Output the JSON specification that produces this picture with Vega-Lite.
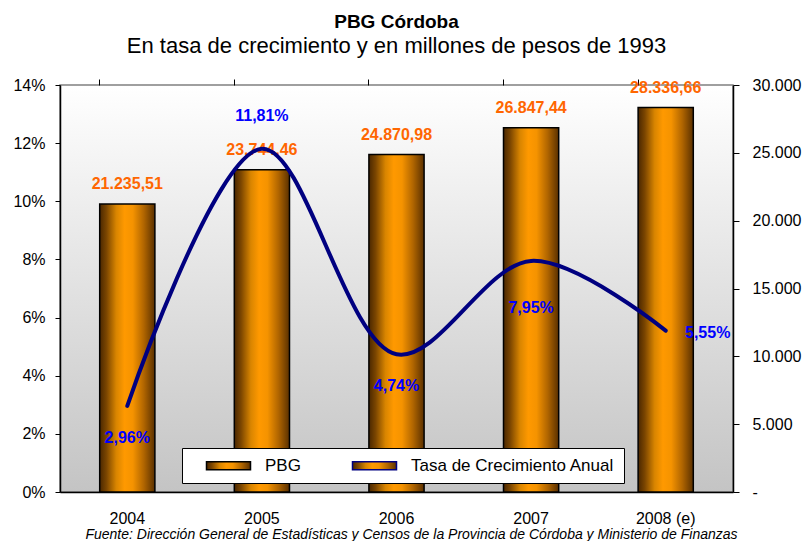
{
  "$schema": "https://vega.github.io/schema/vega-lite/v6.json",
  "width": 673,
  "height": 407,
  "autosize": {"type": "none"},
  "padding": {"left": 60, "top": 85, "right": 79, "bottom": 49},
  "background": "white",
  "title": {
    "text": "PBG Córdoba",
    "subtitle": "En tasa de crecimiento y en millones de pesos de 1993",
    "anchor": "middle",
    "frame": "group",
    "font": "Liberation Sans",
    "fontSize": 19,
    "fontWeight": "bold",
    "color": "black",
    "subtitleFont": "Liberation Sans",
    "subtitleFontSize": 22,
    "subtitleColor": "black",
    "subtitlePadding": 4,
    "offset": 20
  },
  "data": {
    "values": [
      {"year": "2004", "pbg": 21235.51, "tasa": 0.0296},
      {"year": "2005", "pbg": 23744.46, "tasa": 0.1181},
      {"year": "2006", "pbg": 24870.98, "tasa": 0.0474},
      {"year": "2007", "pbg": 26847.44, "tasa": 0.0795},
      {"year": "2008 (e)", "pbg": 28336.66, "tasa": 0.0555}
    ]
  },
  "layer": [
    {
      "mark": {
        "type": "bar",
        "strokeWidth": 1.5,
        "fill": {
          "gradient": "linear", "x1": 0, "y1": 0, "x2": 1, "y2": 0,
          "stops": [
            {"offset": 0, "color": "#4a2700"},
            {"offset": 0.12, "color": "#7a4500"},
            {"offset": 0.3, "color": "#d98500"},
            {"offset": 0.45, "color": "#ff9900"},
            {"offset": 0.6, "color": "#f59300"},
            {"offset": 0.8, "color": "#b06500"},
            {"offset": 1, "color": "#5a3000"}
          ]
        }
      },
      "encoding": {
        "x": {
          "field": "year", "type": "nominal", "sort": null,
          "scale": {"paddingInner": 0.59, "paddingOuter": 0.295},
          "axis": {
            "title": "Fuente: Dirección General de Estadísticas y Censos de la Provincia de Córdoba y Ministerio de Finanzas",
            "labelAngle": 0,
            "ticks": false,
            "tickSize": 0,
            "labelPadding": 18,
            "domainColor": "black",
            "domainWidth": 1.5,
            "titleFont": "Liberation Sans",
            "titleFontStyle": "italic",
            "titleFontWeight": "normal",
            "titleFontSize": 14,
            "titleColor": "black",
            "titleX": 351,
            "titleY": 46,
            "titleAlign": "center",
            "titleAnchor": null,
            "titleBaseline": "alphabetic"
          }
        },
        "y": {
          "field": "pbg", "type": "quantitative",
          "scale": {"domain": [0, 30000], "nice": false},
          "axis": {
            "orient": "right",
            "title": null,
            "values": [0, 5000, 10000, 15000, 20000, 25000, 30000],
            "format": ",.0f",
            "labelExpr": "datum.value == 0 ? '-' : datum.label",
            "tickSize": 6,
            "labelPadding": 13,
            "domainColor": "black",
            "domainWidth": 1.5,
            "tickColor": "black",
            "grid": false
          }
        },
        "stroke": {
          "datum": "PBG", "type": "nominal",
          "scale": {"domain": ["PBG", "Tasa de Crecimiento Anual"], "range": ["#000000", "#000080"]},
          "legend": {
            "title": null,
            "orient": "none",
            "legendX": 122,
            "legendY": 363,
            "direction": "horizontal",
            "columns": 2,
            "fillColor": "white",
            "strokeColor": "black",
            "padding": 9,
            "columnPadding": 36,
            "labelFont": "Liberation Sans",
            "labelFontSize": 17,
            "labelColor": "black",
            "labelLimit": 400,
            "symbolSize": 100,
            "symbolType": "M-4.4,-0.8H4.4V0.8H-4.4Z",
            "symbolStrokeWidth": 1.5,
            "labelOffset": 28,
            "symbolOffset": 29
          }
        }
      }
    },
    {
      "mark": {"type": "text", "font": "Liberation Sans", "fontSize": 16, "fontWeight": "bold", "color": "#ff6600", "baseline": "alphabetic", "dy": -15},
      "encoding": {
        "x": {"field": "year", "type": "nominal", "sort": null, "axis": null},
        "y": {"field": "pbg", "type": "quantitative", "scale": {"domain": [0, 30000], "nice": false}, "axis": null},
        "text": {"field": "pbg", "type": "quantitative", "format": ",.2f"}
      }
    },
    {
      "mark": {"type": "line", "interpolate": "catmull-rom", "strokeWidth": 4, "strokeCap": "round"},
      "encoding": {
        "x": {
          "field": "year", "type": "nominal", "sort": null,
          "axis": {"bandPosition": 0, "labels": false, "ticks": true, "tickSize": 6, "tickColor": "black", "domain": false, "title": null, "grid": false}
        },
        "y": {
          "field": "tasa", "type": "quantitative",
          "scale": {"domain": [0, 0.14], "nice": false},
          "axis": {
            "orient": "left",
            "title": null,
            "values": [0, 0.02, 0.04, 0.06, 0.08, 0.1, 0.12, 0.14],
            "format": ".0%",
            "tickSize": 5,
            "labelPadding": 10,
            "domainColor": "black",
            "domainWidth": 1.5,
            "tickColor": "black",
            "grid": false
          }
        },
        "stroke": {"datum": "Tasa de Crecimiento Anual", "type": "nominal", "legend": null}
      }
    },
    {
      "transform": [{"filter": "datum.year == '2004' || datum.year == '2006'"}],
      "mark": {"type": "text", "font": "Liberation Sans", "fontSize": 16, "fontWeight": "bold", "color": "#0000ff", "baseline": "middle", "dy": 32},
      "encoding": {
        "x": {"field": "year", "type": "nominal", "sort": null, "axis": null},
        "y": {"field": "tasa", "type": "quantitative", "scale": {"domain": [0, 0.14], "nice": false}, "axis": null},
        "text": {"field": "tasa", "type": "quantitative", "format": ".2%"}
      }
    },
    {
      "transform": [{"filter": "datum.year == '2007'"}],
      "mark": {"type": "text", "font": "Liberation Sans", "fontSize": 16, "fontWeight": "bold", "color": "#0000ff", "baseline": "middle", "dy": 47},
      "encoding": {
        "x": {"field": "year", "type": "nominal", "sort": null, "axis": null},
        "y": {"field": "tasa", "type": "quantitative", "scale": {"domain": [0, 0.14], "nice": false}, "axis": null},
        "text": {"field": "tasa", "type": "quantitative", "format": ".2%"}
      }
    },
    {
      "transform": [{"filter": "datum.year == '2005'"}],
      "mark": {"type": "text", "font": "Liberation Sans", "fontSize": 16, "fontWeight": "bold", "color": "#0000ff", "baseline": "middle", "dy": -33},
      "encoding": {
        "x": {"field": "year", "type": "nominal", "sort": null, "axis": null},
        "y": {"field": "tasa", "type": "quantitative", "scale": {"domain": [0, 0.14], "nice": false}, "axis": null},
        "text": {"field": "tasa", "type": "quantitative", "format": ".2%"}
      }
    },
    {
      "transform": [{"filter": "datum.year == '2008 (e)'"}],
      "mark": {"type": "text", "font": "Liberation Sans", "fontSize": 16, "fontWeight": "bold", "color": "#0000ff", "baseline": "middle", "dx": 42, "dy": 2},
      "encoding": {
        "x": {"field": "year", "type": "nominal", "sort": null, "axis": null},
        "y": {"field": "tasa", "type": "quantitative", "scale": {"domain": [0, 0.14], "nice": false}, "axis": null},
        "text": {"field": "tasa", "type": "quantitative", "format": ".2%"}
      }
    }
  ],
  "resolve": {"scale": {"y": "independent"}, "axis": {"x": "independent", "y": "independent"}},
  "config": {
    "locale": {"number": {"decimal": ",", "thousands": ".", "grouping": [3], "currency": ["$", ""]}},
    "view": {
      "stroke": "#808080",
      "strokeWidth": 1.5,
      "fill": {
        "gradient": "linear", "x1": 0, "y1": 0, "x2": 0, "y2": 1,
        "stops": [{"offset": 0, "color": "#ffffff"}, {"offset": 1, "color": "#c4c4c4"}]
      }
    },
    "axis": {"labelFont": "Liberation Sans", "labelFontSize": 16, "labelColor": "black", "grid": false}
  }
}
